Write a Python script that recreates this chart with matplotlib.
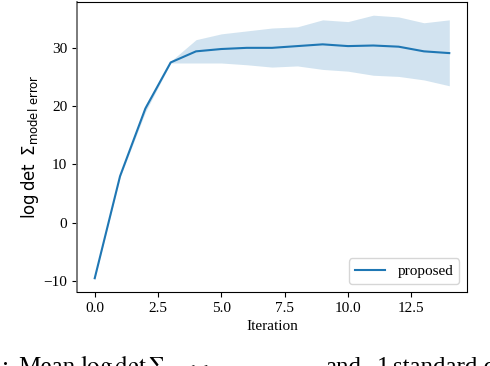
import matplotlib

matplotlib.use("Agg")
import matplotlib.pyplot as plt
import numpy as np

# values
iterations = np.arange(15)
mean_logdet = [-9.5, 8.0, 19.6, 27.5, 29.4, 29.8, 30.0, 30.0, 30.3, 30.6,
               30.3, 30.4, 30.2, 29.4, 29.1]
upper_logdet = [-9.4, 8.2, 20.2, 27.7, 31.4, 32.4, 32.9, 33.4, 33.6, 34.8,
                34.5, 35.6, 35.3, 34.3, 34.8]
lower_logdet = [-9.6, 7.8, 19.0, 27.4, 27.4, 27.4, 27.1, 26.7, 26.9, 26.3,
                26.0, 25.3, 25.1, 24.5, 23.5]
x_ticks = [0.0, 2.5, 5.0, 7.5, 10.0, 12.5]
series_label = "proposed"

plt.rcParams["font.family"] = "serif"
plt.rcParams["font.serif"] = ["Liberation Serif", "DejaVu Serif"]
plt.rcParams["mathtext.fontset"] = "dejavusans"

W, H = 490, 366
fig = plt.figure(figsize=(W / 100, H / 100), dpi=100)
ax = fig.add_axes([77 / W, 1 - 292 / H, (467 - 77) / W, (292 - 2) / H])

ax.plot(iterations, mean_logdet, color="#1f77b4", lw=1.5, label=series_label)
ax.fill_between(iterations, lower_logdet, upper_logdet, color="#1f77b4",
                alpha=0.2, lw=0)

ax.set_xticks(x_ticks)
ax.set_xticklabels([f"{t:.1f}" for t in x_ticks])
ax.tick_params(labelsize=11)
ax.set_xlabel("Iteration", fontsize=11, labelpad=4)
ax.set_ylabel(r"$\log\det\ \Sigma_{\mathrm{model\ error}}$", fontsize=12)
ax.yaxis.set_label_coords(-0.092, 0.5)
ax.spines["left"].set_color("#707070")
ax.spines["left"].set_linewidth(1.3)
ax.legend(loc="lower right", fontsize=11)

# caption of the page, cut off at the bottom edge
cap_y = 1 - 373.5 / H
cap_kw = dict(fontsize=18, va="baseline", ha="left", family="serif")
fig.text(2 / W, cap_y, ":", **cap_kw)
fig.text(18 / W, cap_y, "Mean", **cap_kw)
fig.text(80 / W, cap_y, r"$\mathrm{log\,det}\,\Sigma_{\mathrm{model\ error}}$",
         math_fontfamily="stix", **cap_kw)
fig.text(325 / W, cap_y, "and", **cap_kw)
fig.text(377 / W, cap_y, "1", **cap_kw)
fig.text(393 / W, cap_y, "standard deviation", **cap_kw)

fig.savefig("out.png", dpi=100)
